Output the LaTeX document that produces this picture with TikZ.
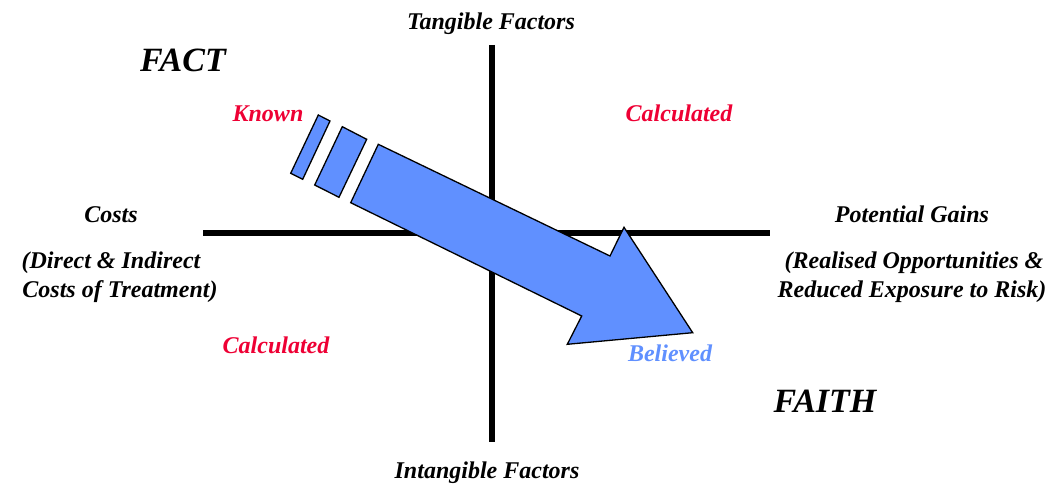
\documentclass[tikz,border=0pt]{standalone}
\usepackage{fontspec}
\setmainfont{Liberation Serif}
\definecolor{factred}{RGB}{238,0,52}
\definecolor{arrowblue}{RGB}{96,144,255}
\begin{document}
\begin{tikzpicture}[x=1pt,y=-1pt,
  lbl/.style={font=\bfseries\itshape\fontsize{24}{28}\selectfont, inner sep=0pt, anchor=base},
  big/.style={font=\bfseries\itshape\fontsize{34}{40}\selectfont, inner sep=0pt, anchor=base},
  red/.style={text=factred},
  axisline/.style={line width=6pt},
  seg/.style={draw=black, line width=1.3pt, fill=arrowblue, line join=miter}]
\useasboundingbox (0,0) rectangle (1058,489);
% axes
\coordinate (L) at (203,233);
\coordinate (R) at (770,233);
\coordinate (T) at (492,45);
\coordinate (B) at (492,442);
\draw[axisline] (L) -- (R);
\draw[axisline] (T) -- (B);
% arrow pieces
\draw[seg] (318.3,115) -- (330,121) -- (302.7,179.3) -- (290.7,173.3) -- cycle;
\draw[seg] (342.3,126.7) -- (366.7,139.3) -- (339,197.3) -- (314.7,185) -- cycle;
\draw[seg] (378.3,144.3) -- (610,256) -- (624,227.3) -- (692.7,332.7)
  -- (567.3,344.3) -- (581.7,316) -- (350.7,202.7) -- cycle;
% labels
\node[lbl] (tang) at (491,30) {Tangible Factors};
\node[big] (fact) at (183,72) {FACT};
\node[lbl,red] (known) at (268,122) {Known};
\node[lbl,red] (calc1) at (679,122) {Calculated};
\node[lbl] (costs) at (111,223) {Costs};
\node[lbl] (costs2) at (111,269) {(Direct \& Indirect};
\node[lbl] (costs3) at (120,298) {Costs of Treatment)};
\node[lbl] (gains) at (912,223) {Potential Gains};
\node[lbl] (gains2) at (914,269) {(Realised Opportunities \&};
\node[lbl] (gains3) at (912,298) {Reduced Exposure to Risk)};
\node[lbl,red] (calc2) at (276,353) {Calculated};
\node[lbl,text=arrowblue] (bel) at (670,361) {Believed};
\node[big] (faith) at (825,412) {FAITH};
\node[lbl] (intang) at (487,478) {Intangible Factors};
\end{tikzpicture}
\end{document}
